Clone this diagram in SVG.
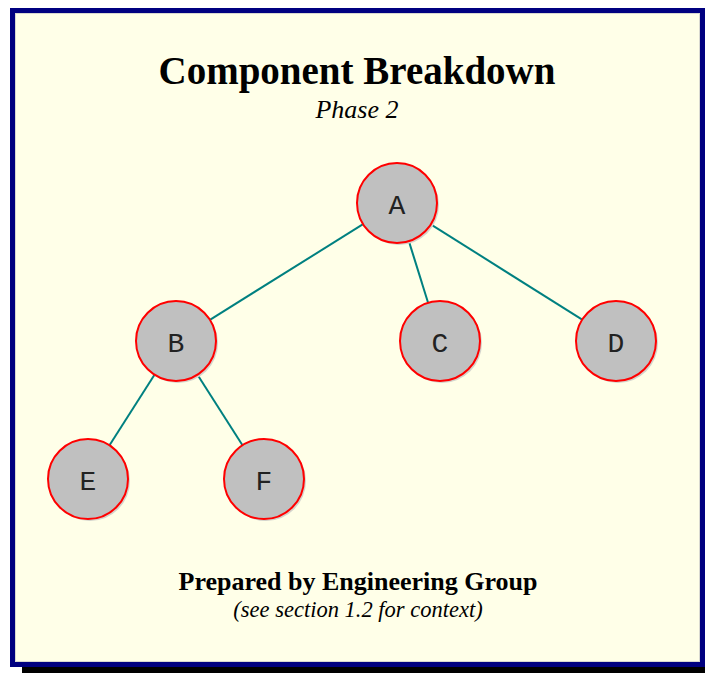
<svg xmlns="http://www.w3.org/2000/svg" width="705" height="673" viewBox="0 0 705 673">
<style>
.title{font-family:"Liberation Serif",serif;font-weight:bold;font-size:39px;fill:#000;text-anchor:middle}
.sub{font-family:"Liberation Serif",serif;font-style:italic;font-size:26px;fill:#000;text-anchor:middle}
.foot{font-family:"Liberation Serif",serif;font-weight:bold;font-size:26px;fill:#000;text-anchor:middle}
.note{font-family:"Liberation Serif",serif;font-style:italic;font-size:22.5px;fill:#000;text-anchor:middle}
.node circle.body{fill:#c0c0c0;stroke:#ff0000;stroke-width:2}
.node circle.shadow{fill:#d4d4cc}
.node text{font-family:"Liberation Mono",monospace;font-size:28px;fill:#222;text-anchor:middle}
.edge{stroke:#008080;stroke-width:2;fill:none}
</style>
<rect x="22" y="18" width="690" height="660" fill="#000"/>
<rect x="12.5" y="10.5" width="690" height="654" fill="#ffffe8" stroke="#000080" stroke-width="5"/>
<rect x="15.5" y="13.5" width="684" height="648" fill="none" stroke="#d8d8d0" stroke-width="1"/>
<text class="title" x="357" y="84">Component Breakdown</text>
<text class="sub" x="357" y="118">Phase 2</text>
<g id="connectors">
<line class="edge" x1="363.1" y1="224.2" x2="209.9" y2="319.8"/>
<line class="edge" x1="408.9" y1="241.2" x2="428.1" y2="302.8"/>
<line class="edge" x1="430.8" y1="224.3" x2="582.2" y2="319.7"/>
<line class="edge" x1="154.5" y1="374.7" x2="109.5" y2="445.3"/>
<line class="edge" x1="197.5" y1="374.7" x2="242.5" y2="445.3"/>
</g>
<g id="node-A" class="node"><circle class="shadow" cx="399" cy="205" r="40"/><circle class="body" cx="397" cy="203" r="40"/><text x="397" y="214">A</text></g>
<g id="node-B" class="node"><circle class="shadow" cx="178" cy="343" r="40"/><circle class="body" cx="176" cy="341" r="40"/><text x="176" y="352">B</text></g>
<g id="node-C" class="node"><circle class="shadow" cx="442" cy="343" r="40"/><circle class="body" cx="440" cy="341" r="40"/><text x="440" y="352">C</text></g>
<g id="node-D" class="node"><circle class="shadow" cx="618" cy="343" r="40"/><circle class="body" cx="616" cy="341" r="40"/><text x="616" y="352">D</text></g>
<g id="node-E" class="node"><circle class="shadow" cx="90" cy="481" r="40"/><circle class="body" cx="88" cy="479" r="40"/><text x="88" y="490">E</text></g>
<g id="node-F" class="node"><circle class="shadow" cx="266" cy="481" r="40"/><circle class="body" cx="264" cy="479" r="40"/><text x="264" y="490">F</text></g>
<text class="foot" x="358" y="590">Prepared by Engineering Group</text>
<text class="note" x="358" y="617">(see section 1.2 for context)</text>
</svg>
